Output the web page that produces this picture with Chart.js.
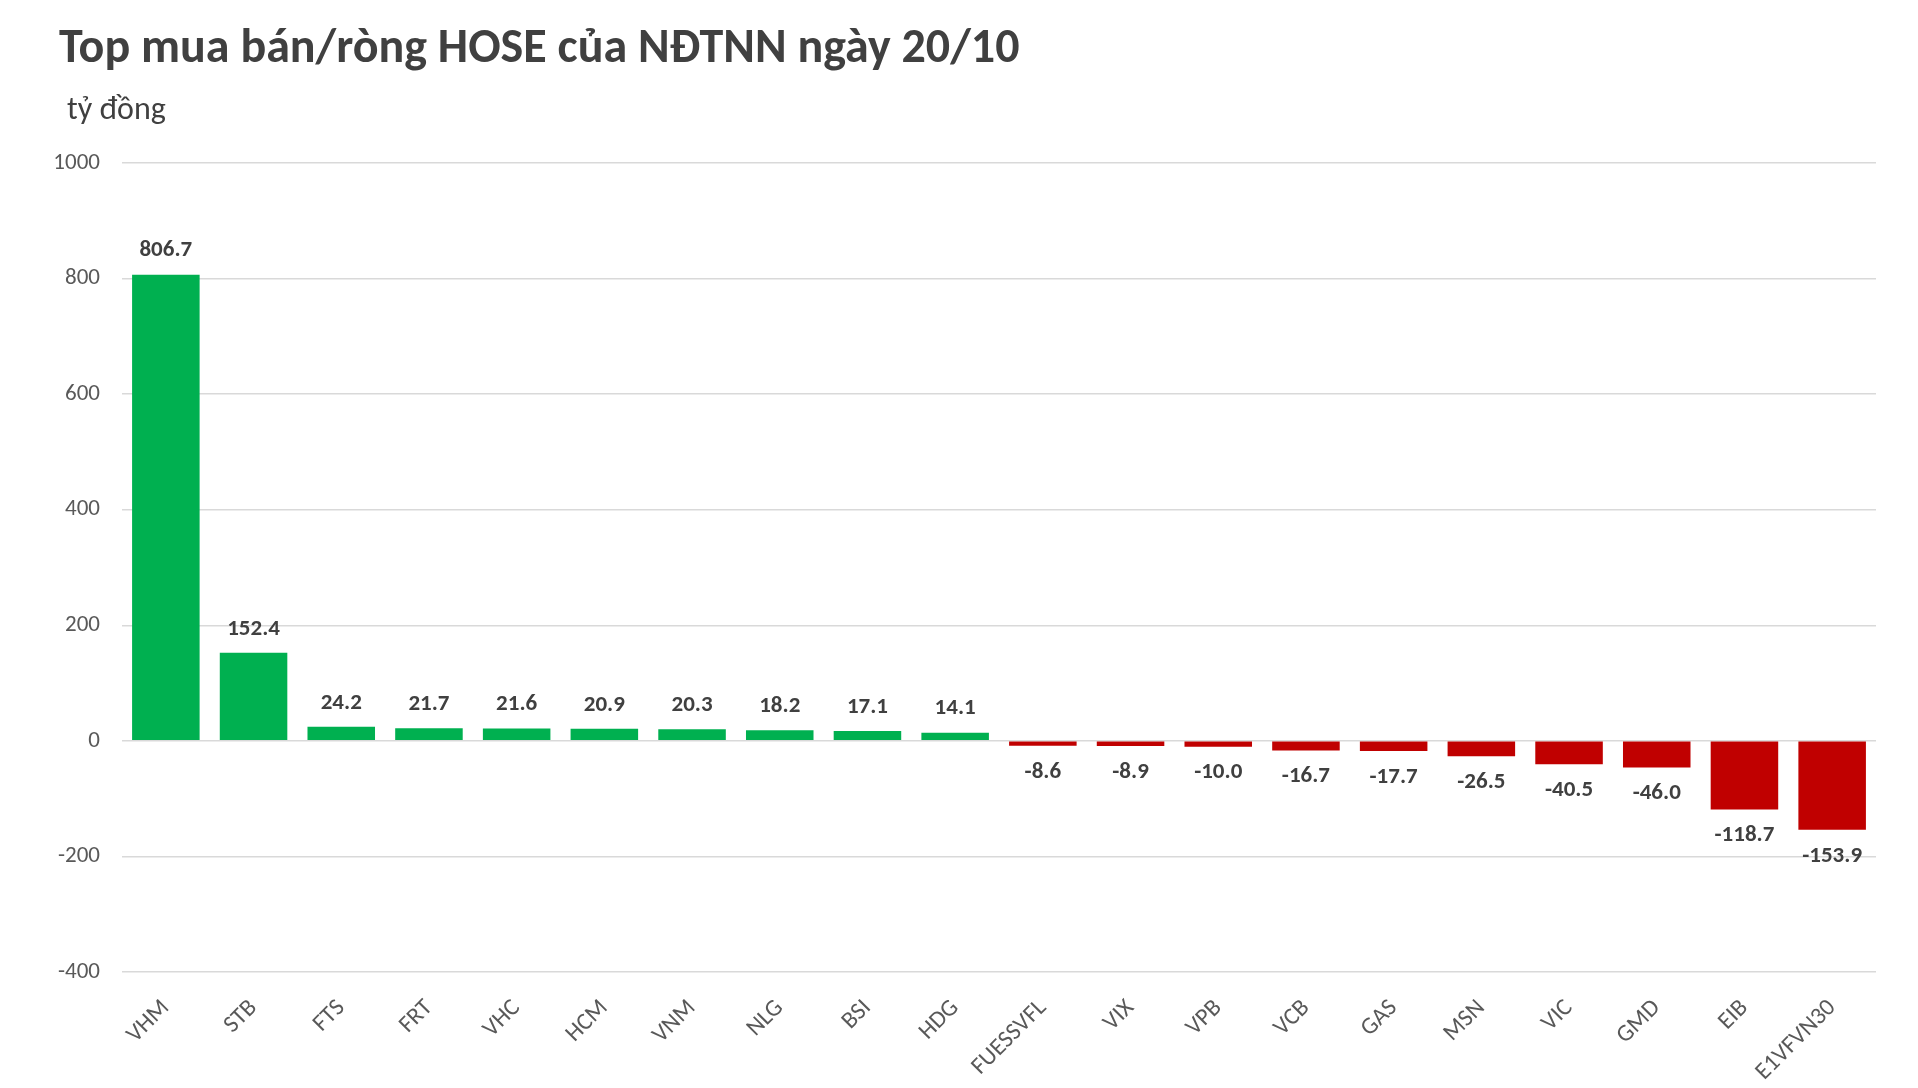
<!DOCTYPE html>
<html lang="vi">
<head>
    <meta charset="UTF-8">
    <title>Top mua bán/ròng HOSE của NĐTNN ngày 20/10</title>
    <style>
        body {
            margin: 0;
            padding: 0;
            background: #fff;
            font-family: Carlito, Lato, sans-serif;
        }
        .wrap {
            position: relative;
            width: 1918px;
            height: 1088px;
        }
        .title {
            position: absolute;
            left: 59px;
            top: 16px;
            font-size: 48px;
            font-weight: bold;
            color: #404040;
            white-space: nowrap;
        }
        .unit {
            position: absolute;
            left: 67px;
            top: 89px;
            font-size: 32px;
            color: #404040;
        }
        canvas {
            position: absolute;
            left: 0;
            top: 0;
        }
    </style>
    <script src="https://cdn.jsdelivr.net/npm/chart.js"></script>
</head>
<body>
    <div class="wrap">
        <canvas id="chart" width="1918" height="1088"></canvas>
        <div class="title">Top mua bán/ròng HOSE của NĐTNN ngày 20/10</div>
        <div class="unit">tỷ đồng</div>
    </div>
    <script>
        // data
        const tickers = ['VHM', 'STB', 'FTS', 'FRT', 'VHC', 'HCM', 'VNM', 'NLG', 'BSI', 'HDG',
            'FUESSVFL', 'VIX', 'VPB', 'VCB', 'GAS', 'MSN', 'VIC', 'GMD', 'EIB', 'E1VFVN30'];
        const netValues = [806.7, 152.4, 24.2, 21.7, 21.6, 20.9, 20.3, 18.2, 17.1, 14.1,
            -8.6, -8.9, -10.0, -16.7, -17.7, -26.5, -40.5, -46.0, -118.7, -153.9];
        const yMin = -400;
        const yMax = 1000;
        const yStep = 200;

        const GREEN = '#00B050';
        const RED = '#C00000';

        // value labels above / below each bar
        const valueLabels = {
            id: 'valueLabels',
            afterDatasetsDraw(chart) {
                const ctx = chart.ctx;
                const meta = chart.getDatasetMeta(0);
                ctx.save();
                ctx.font = 'bold 23px Carlito, Lato, sans-serif';
                ctx.fillStyle = '#404040';
                ctx.textAlign = 'center';
                ctx.textBaseline = 'middle';
                meta.data.forEach((bar, i) => {
                    const v = netValues[i];
                    const y = v >= 0 ? bar.y - 24 : bar.y + 26;
                    ctx.fillText(v.toFixed(1), bar.x, y);
                });
                ctx.restore();
            }
        };

        const ctx = document.getElementById('chart').getContext('2d');
        new Chart(ctx, {
            type: 'bar',
            data: {
                labels: tickers,
                datasets: [{
                    data: netValues,
                    backgroundColor: netValues.map(v => v >= 0 ? GREEN : RED),
                    categoryPercentage: 1,
                    barPercentage: 0.77
                }]
            },
            options: {
                responsive: false,
                animation: false,
                layout: {
                    padding: { top: 163, right: 42, bottom: 0, left: 0 }
                },
                plugins: {
                    legend: { display: false },
                    tooltip: { enabled: false }
                },
                scales: {
                    x: {
                        grid: { display: false, drawTicks: false },
                        border: { display: false },
                        ticks: {
                            color: '#595959',
                            font: { family: 'Carlito, Lato, sans-serif', size: 24 },
                            minRotation: 45,
                            maxRotation: 45,
                            autoSkip: false,
                            padding: 22
                        },
                        afterFit(axis) { axis.height = 116; }
                    },
                    y: {
                        min: yMin,
                        max: yMax,
                        grid: { color: '#d9d9d9', lineWidth: 1.5, drawTicks: false },
                        border: { display: false },
                        ticks: {
                            stepSize: yStep,
                            color: '#595959',
                            font: { family: 'Carlito, Lato, sans-serif', size: 23 },
                            padding: 22,
                            callback: v => String(v)
                        },
                        afterFit(axis) { axis.width = 122; }
                    }
                }
            },
            plugins: [valueLabels]
        });
    </script>
</body>
</html>
